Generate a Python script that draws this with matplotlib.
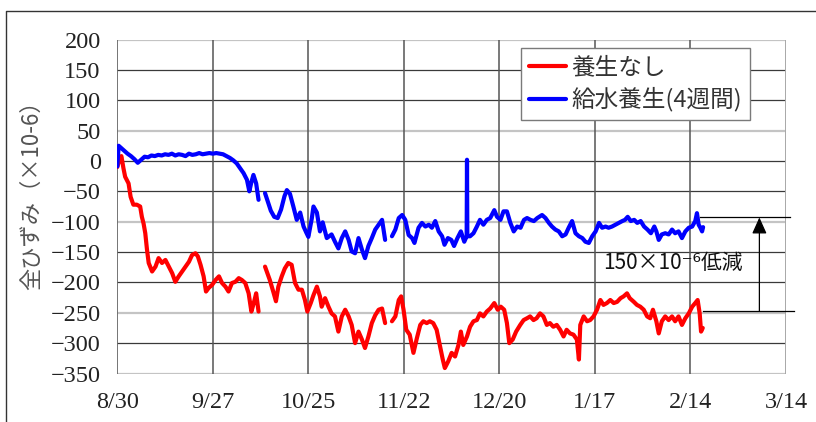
import numpy as np
import matplotlib
matplotlib.use("Agg")
import matplotlib.pyplot as plt
from matplotlib.lines import Line2D

# ---------------- data ----------------
x_tick_labels = ["8/30", "9/27", "10/25", "11/22", "12/20", "1/17", "2/14", "3/14"]
x_tick_days = [0, 28, 56, 84, 112, 140, 168, 196]
y_ticks = [200, 150, 100, 50, 0, -50, -100, -150, -200, -250, -300, -350]

series_names = ["養生なし", "給水養生(4週間)"]

# days since 8/30; NaN marks a gap in the record
blue_days = [0, 0.4, 1, 2, 3, 4, 5, 6, 7, 8, 9, 10, 11, 12, 13, 14, 15, 16, 17, 18, 19, 20,
             21, 22, 23, 24, 25, 26, 27, 28, 29, 30, 31, 32, 33, 34, 35, 36, 37, 38, 38.7,
             39.3, 39.9, 40.7, 41.4, 42.3,
             43.3, 44, 45, 46, 47, 48, 49, 49.7, 50.6, 51.6, 52.6, 53.6, 54.6, 55.4, 56, 57,
             57.5, 58.5, 59.4, 60.2, 61.4, 62.8, 63.8, 64.8, 65.8, 66.8, 67.8, 68.7, 69.7,
             70.7, 71.7, 72.6, 73.6, 74.6, 75.6, 76.6, 77.6, 78.5, 79.5,
             80.5, 81.5, 82.5, 83.5, 84.4, 85.4, 86.4, 87.1, 88.3, 89.3, 90.3, 91.3, 92.2,
             93.2, 94.2, 95.2, 95.9, 96.9, 97.9, 98.7, 99.7, 100.7, 101.7, 102.4, 102.5,
             102.6, 103.4, 104.4, 105.4, 106.3, 107.3, 108.3, 109.3, 110.5, 111.3, 112.3,
             113.2, 114.2, 115.2, 116.2, 117.2, 118.2, 119.2, 120.1, 121.1, 122.1, 123.1,
             124.5, 125.5, 126.5, 127.4, 128.4, 129.4, 130.4, 131.4, 132.3, 133.3, 134.3,
             135.3, 136.3, 137.2, 138.2, 139.2, 140.2, 141.2, 142.1, 143.1, 144, 145, 146,
             147, 148, 148.8, 149.6, 150.5, 151.5, 152.4, 153.4, 154.4, 155.4, 156.4, 157.4,
             158, 158.7, 159.6, 160.6, 161.6, 162.6, 163.5, 164.5, 165.5, 166.5, 167.5,
             168.5, 169.4, 169.9, 170.4, 170.9, 171.4, 171.7]
blue_vals = [-9, 25, 22, 17, 12, 8, 3, -3, 2, 7, 6, 9, 8, 10, 9, 11, 10, 12, 9, 11, 10, 8,
             12, 10, 11, 13, 11, 12, 13, 12, 13, 12, 11, 8, 5, 1, -4, -12, -20, -31, -50,
             -35, -23, -37, -64, np.nan,
             -53, -65, -82, -92, -94, -80, -58, -48, -54, -75, -97, -85, -108, -118, -125, -95,
             -75, -85, -116, -101, -127, -121, -133, -144, -127, -116, -130, -149, -152,
             -127, -146, -160, -140, -127, -113, -105, -97, -130, np.nan,
             -124, -113, -94, -89, -97, -122, -127, -135, -110, -102, -108, -105, -110,
             -99, -116, -124, -138, -127, -130, -140, -127, -116, -133, -124, 2,
             -124, -124, -119, -108, -97, -105, -97, -94, -81, -92, -97,
             -83, -83, -102, -116, -108, -110, -97, -94, -97, -99, -94,
             -89, -94, -102, -108, -113, -116, -124, -121, -110, -99, -119,
             -124, -127, -133, -135, -124, -116, -102, -110, -108, -110, -108, -105,
             -102, -99, -97, -92, -99, -97, -102, -99, -108, -113, -119, -108,
             -116, -130, -121, -119, -121, -113, -119, -116, -127, -116, -110,
             -108, -99, -86, -105, -110, -116, -109]

red_days = [0, 0.6, 1.2, 1.8, 2.3, 3.3, 3.9, 4.7, 5.7, 6.7, 7.2, 7.7, 8.2, 8.7, 9.2, 10.2,
            11.2, 12.1, 13.1, 14.1, 15.1, 16.1, 17, 18, 19, 20, 21, 21.9, 22.9, 23.6, 24.4,
            25.3, 26, 26.8, 27.8, 28.8, 29.8, 30.7, 31.7, 32.6, 33.6, 34.6, 35.6, 36.5, 37.5,
            38.5, 39.3, 40, 40.7, 41.4, 42.3,
            43.3, 44, 44.7, 45.7, 46.5, 47.2, 48.2, 49.1, 50.1, 51.1, 52.1, 53.1, 54.1, 55,
            55.7, 56.7, 57.5, 58.5, 59.4, 59.9, 60.9, 61.9, 62.8, 63.8, 64.8, 65.8, 66.8,
            67.8, 68.7, 69.7, 70.7, 71.7, 72.6, 73.6, 74.6, 75.6, 76.6, 77.6, 78.5, 79.5,
            80.5, 81.5, 82.5, 83.2, 83.9, 84.7, 85.7, 86.8, 87.8, 88.8, 89.7, 90.7, 91.6,
            92.6, 93.6, 94.6, 95.4, 96, 97, 98, 99, 100, 100.7, 101.4, 102.5, 103.4, 104.4,
            105.4, 106.3, 107.3, 108.3, 109.3, 110.5, 111.5, 112.4, 113.4, 114.2, 114.9,
            115.9, 116.9, 118.1, 119.1, 120.1, 121, 122, 122.9, 123.9, 124.9, 125.9, 126.8,
            127.8, 128.8, 129.8, 130.8, 131.7, 132.7, 133.7, 134.7, 135.3, 135.7, 136.7,
            137.7, 138.6, 139.6, 140.6, 141.6, 142.5, 143.5, 144.5, 145.5, 146.5, 147.5,
            148.4, 149.4, 150.2, 151.4, 152.3, 153.3, 154.3, 155.3, 156.2, 157, 158, 158.7,
            159.6, 160.6, 161.6, 162.6, 163.5, 164.5, 165.5, 166.5, 167.5, 168.5, 169.4,
            170.1, 170.7, 171.1, 171.6]
red_vals = [-10, 2, 8, -12, -26, -37, -59, -72, -72, -75, -92, -103, -119, -146, -168, -182,
            -174, -160, -168, -163, -174, -185, -199, -190, -182, -174, -166, -155, -152, -157,
            -171, -190, -215, -209, -204, -196, -190, -201, -207, -215, -201, -199, -193, -196,
            -201, -218, -248, -234, -218, -248, np.nan,
            -174, -185, -196, -215, -231, -207, -190, -177, -168, -171, -201, -212, -212, -229,
            -248, -234, -221, -207, -223, -240, -226, -240, -251, -256, -281, -256, -245,
            -256, -270, -300, -281, -294, -308, -289, -267, -254, -245, -243, -267, np.nan,
            -264, -256, -229, -223, -245, -278, -286, -316, -292, -270, -264, -267, -264,
            -267, -278, -305, -327, -341, -330, -316, -322, -303, -281, -303, -289, -273, -264,
            -262, -251, -256, -248, -243, -234, -245, -240, -245, -267, -300,
            -294, -281, -270, -262, -259, -256, -262, -259, -251, -256, -270, -267,
            -273, -270, -278, -289, -278, -284, -286, -294, -327, -270, -256,
            -264, -262, -256, -245, -229, -237, -234, -229, -234, -232, -226,
            -223, -218, -226, -232, -237, -240, -245, -256, -259, -245, -264, -284,
            -264, -256, -262, -256, -264, -256, -270, -259, -251, -240, -234,
            -229, -251, -281, -275]

# annotation: levels compared and text
blue_level = -93
red_level = -247
annot_text = "150×10⁻⁶低減"
ylabel_text = "全ひずみ（×10-6）"

# ---------------- figure ----------------
W, H = 816, 422
fig = plt.figure(figsize=(W / 100, H / 100), dpi=100)
L, R, T, B = 117.3, 786.0, 39.5, 373.5
ax = fig.add_axes([L / W, 1 - B / H, (R - L) / W, (B - T) / H])
ax.set_xlim(0, 196)
ax.set_ylim(-350, 200)

# grid (mimicking alternating rendering of the original)
light_y = {200, 50, -100, -250, -350}
for yv in y_ticks:
    if yv in light_y:
        ax.axhline(yv, color="#c4c4c4", lw=1.6, zorder=1)
    else:
        ax.axhline(yv, color="#3a3a3a", lw=0.9, zorder=1)
for i, xv in enumerate(x_tick_days):
    if i == len(x_tick_days) - 1:
        ax.axvline(xv, color="#a8a8a8", lw=1.4, zorder=1)
    elif i == 0:
        ax.axvline(xv, color="#6a6a6a", lw=1.3, zorder=1)
    else:
        ax.axvline(xv, color="#555555", lw=1.1, zorder=1)
for s in ax.spines.values():
    s.set_visible(False)

ax.plot(red_days, red_vals, color="#ff0000", lw=3.0, zorder=3, label=series_names[0],
        solid_joinstyle="round", solid_capstyle="round")
ax.plot(blue_days, blue_vals, color="#0000ff", lw=3.0, zorder=4, label=series_names[1],
        solid_joinstyle="round", solid_capstyle="round")

serif = ["Liberation Serif", "DejaVu Serif"]
ax.set_xticks(x_tick_days)
ax.set_xticklabels(x_tick_labels, family=serif, fontsize=17.5, color="#222222")
ax.set_yticks(y_ticks)
ax.set_yticklabels([str(v).replace("-", "\u2212") for v in y_ticks],
                   family=serif, fontsize=17.5, color="#222222")
ax.tick_params(axis="x", length=0, pad=13)
ax.tick_params(axis="y", length=0, pad=12)

cjk = ["Noto Sans CJK JP", "DejaVu Sans"]
fig.text(32 / W, 1 - 190 / H, ylabel_text, rotation=90, ha="center", va="center",
         fontsize=16, family=cjk, color="#555555")

leg = ax.legend(loc="upper left", bbox_to_anchor=(520.7 / W, 1 - 47.7 / H),
                bbox_transform=fig.transFigure, borderaxespad=0, frameon=True,
                fancybox=False, edgecolor="#7a7a7a", framealpha=1,
                prop={"family": cjk, "size": 17}, handlelength=1.55,
                handletextpad=0.25, labelspacing=0.35, borderpad=0.35)
leg.get_frame().set_linewidth(1.0)
for t in leg.get_texts():
    t.set_color("#333333")
leg.set_zorder(10)

# annotation lines / arrow
xa = 188.2
ax.plot([170.9, 197.3], [blue_level, blue_level], color="black", lw=0.9, clip_on=False, zorder=5)
ax.plot([171.8, 198.2], [red_level, red_level], color="black", lw=0.9, clip_on=False, zorder=5)
ax.annotate("", xy=(xa, blue_level), xytext=(xa, red_level),
            arrowprops=dict(arrowstyle="-|>,head_length=1.0,head_width=0.45",
                            color="black", lw=0.9, shrinkA=0, shrinkB=0), zorder=6)
ax.text(197.3 * 0 + 163.0, -168, annot_text, ha="center", va="center", fontsize=15,
        family=["Noto Sans CJK JP", "DejaVu Sans"], color="#111111", zorder=6)

# outer frame (top and left edges visible)
fig.add_artist(Line2D([5.7 / W, 5.7 / W, 1.0], [0, 1 - 10.7 / H, 1 - 10.7 / H],
                      transform=fig.transFigure, color="#333333", lw=1.0))

fig.savefig("out.png", dpi=100)
